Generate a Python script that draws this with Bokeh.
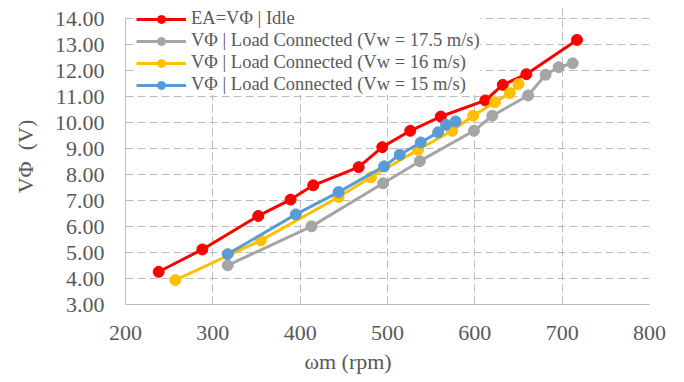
from bokeh.plotting import figure
from bokeh.models import Range1d, FixedTicker, Legend, LegendItem, NumeralTickFormatter, Title
from bokeh.embed import file_html
from bokeh.resources import INLINE

# ---- data ----
x_ticks = [200, 300, 400, 500, 600, 700, 800]
y_ticks = [3, 4, 5, 6, 7, 8, 9, 10, 11, 12, 13, 14]

rpm_idle = [238, 288, 352, 389, 415, 467, 494, 526, 561, 612, 632, 659, 717]
v_idle = [4.26, 5.12, 6.41, 7.04, 7.59, 8.29, 9.06, 9.69, 10.24, 10.86, 11.46, 11.87, 13.19]

rpm_175 = [317, 413, 495, 537, 599, 620, 661, 681, 696, 712]
v_175 = [4.51, 6.01, 7.67, 8.52, 9.69, 10.27, 11.05, 11.85, 12.14, 12.29]

rpm_16 = [257, 355, 444, 481, 535, 574, 598, 623, 640, 650]
v_16 = [3.94, 5.47, 7.14, 7.90, 8.96, 9.69, 10.27, 10.79, 11.14, 11.49]

rpm_15 = [317, 395, 444, 496, 514, 538, 558, 567, 578]
v_15 = [4.94, 6.47, 7.33, 8.32, 8.77, 9.24, 9.63, 9.92, 10.05]

series = [
    ("EA=VΦ | Idle", rpm_idle, v_idle, "#FF0000"),
    ("VΦ | Load Connected (Vw = 17.5 m/s)", rpm_175, v_175, "#A5A5A5"),
    ("VΦ | Load Connected (Vw = 16 m/s)", rpm_16, v_16, "#FFC000"),
    ("VΦ | Load Connected (Vw = 15 m/s)", rpm_15, v_15, "#5B9BD5"),
]

FONT = "Liberation Serif"
TXT = "#595959"
GRID = "#BBBBBB"

p = figure(width=684, height=382, output_backend="svg", toolbar_location=None,
           x_range=Range1d(200, 800), y_range=Range1d(3, 14.4),
           min_border_left=125, min_border_right=35, min_border_top=8, min_border_bottom=78)
p.outline_line_color = None
p.background_fill_color = "white"

for ax in (p.xaxis[0], p.yaxis[0]):
    ax.axis_line_color = GRID
    ax.axis_line_width = 1
    ax.major_tick_line_color = None
    ax.minor_tick_line_color = None
    ax.major_tick_in = 0
    ax.major_tick_out = 0
    ax.major_label_text_font = FONT
    ax.major_label_text_font_size = "22px"
    ax.major_label_text_color = TXT
    ax.axis_label_text_font = FONT
    ax.axis_label_text_font_size = "22px"
    ax.axis_label_text_color = TXT
    ax.axis_label_text_font_style = "normal"

p.xaxis.ticker = FixedTicker(ticks=x_ticks)
p.yaxis.ticker = FixedTicker(ticks=y_ticks)
p.yaxis.bounds = (3, 14)
p.yaxis.formatter = NumeralTickFormatter(format="0.00")
p.xaxis.major_label_standoff = 21
p.yaxis.major_label_standoff = 21
p.yaxis.axis_label = "VΦ \u00a0(V)"
p.yaxis.axis_label_standoff = 14

xtitle = Title(text="ωm (rpm)", align="left", offset=179, standoff=8,
               text_font=FONT, text_font_size="22px", text_color=TXT,
               text_font_style="normal")
p.add_layout(xtitle, "below")

for g in (p.xgrid, p.ygrid):
    g.grid_line_color = GRID
    g.grid_line_dash = "8 4"
    g.grid_line_width = 1
p.xgrid.ticker = FixedTicker(ticks=x_ticks)
p.ygrid.ticker = FixedTicker(ticks=y_ticks)
p.xgrid.bounds = (3, 14)

items = []
for name, xs, ys, col in series:
    l = p.line(xs, ys, line_color=col, line_width=3)
    s = p.scatter(xs, ys, size=11, fill_color=col, line_color=col)
    items.append(LegendItem(label=name, renderers=[l, s]))

legend = Legend(items=items, location=(11, 209), orientation="vertical")
legend.label_text_font = FONT
legend.label_text_font_size = "18.5px"
legend.label_text_color = TXT
legend.glyph_width = 50
legend.glyph_height = 20
legend.label_height = 20
legend.label_standoff = 5
legend.spacing = 1
legend.padding = 2
legend.margin = 0
legend.border_line_color = None
legend.background_fill_color = "white"
legend.background_fill_alpha = 1.0
p.add_layout(legend)

open("out.html", "w").write(file_html(p, INLINE))
